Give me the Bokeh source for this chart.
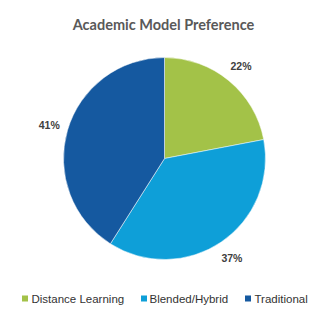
import math
from bokeh.plotting import figure
from bokeh.models import Range1d, ColumnDataSource
from bokeh.core.properties import value
from bokeh.embed import file_html
from bokeh.resources import INLINE

title = "Academic Model Preference"
categories = ["Distance Learning", "Blended/Hybrid", "Traditional"]
percents = [22, 37, 41]
colors = ["#A3C248", "#0E9FD8", "#1559A0"]

W, H = 331, 330
cx, cy, R = 164, H - 158, 101
label_r = 120

p = figure(width=W, height=H, x_range=Range1d(0, W), y_range=Range1d(0, H),
           min_border=0, toolbar_location=None, output_backend="svg")
p.axis.visible = False
p.grid.visible = False
p.outline_line_color = None
p.background_fill_color = "white"

total = sum(percents)
starts, ends, lx, ly, labels = [], [], [], [], []
acc = 0
for v in percents:
    a0 = math.pi / 2 - 2 * math.pi * acc / total
    a1 = math.pi / 2 - 2 * math.pi * (acc + v) / total
    am = (a0 + a1) / 2
    starts.append(a0)
    ends.append(a1)
    lx.append(cx + label_r * math.cos(am))
    ly.append(cy + label_r * math.sin(am))
    labels.append(f"{v}%")
    acc += v

src = ColumnDataSource(dict(start=starts, end=ends, color=colors, lx=lx, ly=ly, label=labels))
p.wedge(x=cx, y=cy, radius=R, start_angle="start", end_angle="end", direction="clock",
        fill_color="color", line_color="white", line_width=0.5, source=src)
p.text(x="lx", y="ly", text="label", source=src, text_align="center", text_baseline="middle",
       text_font=value("Liberation Sans"), text_font_style="bold", text_font_size="10.5px",
       text_color="#404040")

p.text(x=[163], y=[H - 24], text=[title], text_align="center", text_baseline="middle",
       text_font=value("Lato"), text_font_style="bold", text_font_size="14.5px",
       text_color="#595959")

# legend
leg_sq_x = [24.5, 143.5, 247.5]
leg_tx = [31, 149, 254]
leg_y = H - 298
p.rect(x=leg_sq_x, y=[leg_y] * 3, width=6, height=6, fill_color=colors, line_color=None)
p.text(x=leg_tx, y=[leg_y] * 3, text=categories, text_align="left", text_baseline="middle",
       text_font=value("Liberation Sans"), text_font_size="11.5px", text_color="#333333")

open("out.html", "w").write(file_html(p, INLINE))
